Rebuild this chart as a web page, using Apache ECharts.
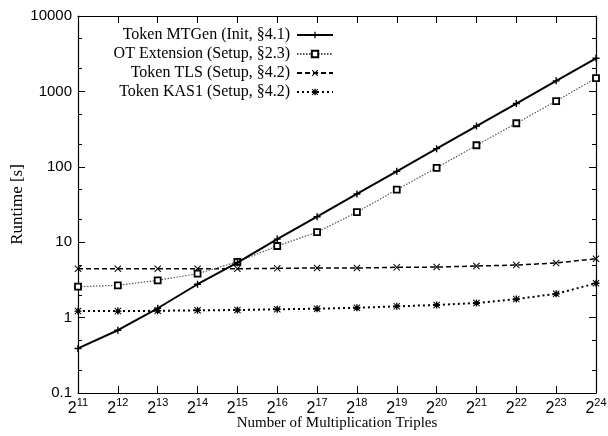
<!DOCTYPE html>
<html>
<head>
<meta charset="utf-8">
<script src="https://cdn.jsdelivr.net/npm/echarts@6/dist/echarts.min.js"></script>
<style>
  html, body { margin: 0; padding: 0; background: #fff; }
  #chart { width: 608px; height: 436px; }
</style>
</head>
<body>
<div id="chart"></div>
<script>
// x categories: exponents of 2
const exponents = ['11', '12', '13', '14', '15', '16', '17', '18', '19', '20', '21', '22', '23', '24'];

// runtimes in seconds
const mtgen = [0.39, 0.68, 1.33, 2.77, 5.35, 11, 21.8, 43.6, 87, 174, 347, 690, 1380, 2750];
const otExt = [2.57, 2.68, 3.12, 3.82, 5.5, 8.9, 13.6, 25, 49.7, 97, 193, 378, 745, 1500];
const tls = [4.45, 4.45, 4.45, 4.45, 4.45, 4.5, 4.55, 4.55, 4.64, 4.68, 4.83, 4.98, 5.3, 6.04];
const kas1 = [1.22, 1.22, 1.23, 1.25, 1.26, 1.29, 1.31, 1.35, 1.41, 1.47, 1.56, 1.76, 2.07, 2.85];

const majorTicks = [0.1, 1, 10, 100, 1000, 10000];
const minorTicks = [0.2, 0.5, 2, 5, 20, 50, 200, 500, 2000, 5000];

const sans = 'Liberation Sans, Arial, sans-serif';
const serif = 'Liberation Serif, Times New Roman, serif';

const plusPath = 'path://M4,0H6V4H10V6H6V10H4V6H0V4H4Z';
const crossPath = 'path://M1,0L5,4L9,0L10,1L6,5L10,9L9,10L5,6L1,10L0,9L4,5L0,1Z';
const starPath = 'path://M1,0L5,4L9,0L10,1L6,5L10,9L9,10L5,6L1,10L0,9L4,5L0,1Z M4,0H6V4H10V6H6V10H4V6H0V4H4Z';

const chart = echarts.init(document.getElementById('chart'), null, { renderer: 'canvas' });

function logAxis(position, ticks, len, showLine, showLabel) {
  return {
    type: 'log',
    logBase: 10,
    min: 0.1,
    max: 10000,
    position: position,
    splitLine: { show: false },
    axisLine: { show: showLine, lineStyle: { color: '#000', width: 1.2 } },
    axisTick: {
      show: true,
      inside: true,
      length: len,
      customValues: ticks,
      lineStyle: { color: '#000', width: 1 }
    },
    axisLabel: {
      show: showLabel,
      customValues: ticks,
      color: '#000',
      fontFamily: sans,
      fontSize: 15,
      margin: 6,
      formatter: function (v) { return String(v); }
    }
  };
}

const option = {
  animation: false,
  backgroundColor: '#fff',
  grid: { left: 78, right: 12, top: 16, bottom: 43, outerBoundsMode: 'none' },
  legend: {
    orient: 'vertical',
    align: 'right',
    right: 274,
    top: 27,
    padding: 0,
    itemWidth: 36,
    itemHeight: 8,
    itemGap: 3,
    textStyle: { fontFamily: serif, fontSize: 16, color: '#000', padding: [0, 2, 0, 0] },
    data: ['Token MTGen (Init, §4.1)', 'OT Extension (Setup, §2.3)', 'Token TLS (Setup, §4.2)', 'Token KAS1 (Setup, §4.2)']
  },
  xAxis: [
    {
      type: 'category',
      data: exponents,
      boundaryGap: false,
      position: 'bottom',
      name: 'Number of Multiplication Triples',
      nameLocation: 'middle',
      nameGap: 23,
      nameMoveOverlap: false,
      nameTextStyle: { fontFamily: serif, fontSize: 15, color: '#000' },
      axisLine: { show: true, lineStyle: { color: '#000', width: 1.2 } },
      axisTick: { show: true, inside: true, length: 7, interval: 0, lineStyle: { color: '#000' } },
      splitLine: { show: false },
      axisLabel: {
        interval: 0,
        margin: 2,
        color: '#000',
        formatter: function (v) { return '{b|2}{s|' + v + '}'; },
        rich: {
          b: { fontFamily: sans, fontSize: 16, color: '#000', padding: [6, 0, 0, 0] },
          s: { fontFamily: sans, fontSize: 11, color: '#000', padding: [0, 0, 6, 0] }
        }
      }
    },
    {
      type: 'category',
      data: exponents,
      boundaryGap: false,
      position: 'top',
      axisLine: { show: true, lineStyle: { color: '#000', width: 1.2 } },
      axisTick: { show: true, inside: true, length: 7, interval: 0, lineStyle: { color: '#000' } },
      axisLabel: { show: false },
      splitLine: { show: false }
    }
  ],
  yAxis: [
    Object.assign(logAxis('left', majorTicks, 7, true, true), {
      name: 'Runtime [s]',
      nameLocation: 'middle',
      nameGap: 52,
      nameMoveOverlap: false,
      nameTextStyle: { fontFamily: serif, fontSize: 17, color: '#000' }
    }),
    logAxis('left', minorTicks, 4, false, false),
    logAxis('right', majorTicks, 7, true, false),
    logAxis('right', minorTicks, 4, false, false)
  ],
  series: [
    {
      name: 'Token MTGen (Init, §4.1)',
      type: 'line',
      data: mtgen,
      symbol: plusPath,
      symbolSize: 7,
      showAllSymbol: true,
      lineStyle: { color: '#000', width: 2, type: 'solid' },
      itemStyle: { color: '#000' },
      z: 4
    },
    {
      name: 'OT Extension (Setup, §2.3)',
      type: 'line',
      data: otExt,
      symbol: 'rect',
      symbolSize: 6,
      showAllSymbol: true,
      lineStyle: { color: '#555', width: 1.2, type: [1.5, 1.5] },
      itemStyle: { color: '#fff', borderColor: '#000', borderWidth: 1.8 },
      z: 3
    },
    {
      name: 'Token TLS (Setup, §4.2)',
      type: 'line',
      data: tls,
      symbol: crossPath,
      symbolSize: 7,
      showAllSymbol: true,
      lineStyle: { color: '#000', width: 1.5, type: [5, 3] },
      itemStyle: { color: '#000' },
      z: 2
    },
    {
      name: 'Token KAS1 (Setup, §4.2)',
      type: 'line',
      data: kas1,
      symbol: starPath,
      symbolSize: 7,
      showAllSymbol: true,
      lineStyle: { color: '#000', width: 2, type: [2, 3] },
      itemStyle: { color: '#000' },
      z: 2
    }
  ]
};

chart.setOption(option);
</script>
</body>
</html>
